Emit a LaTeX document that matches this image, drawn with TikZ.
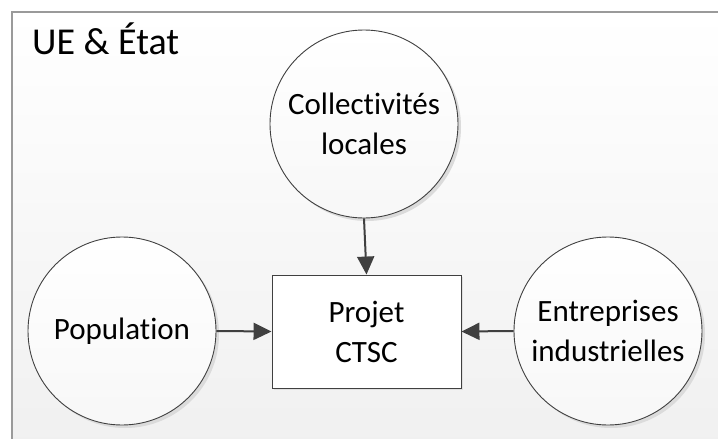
\documentclass[tikz,border=0pt]{standalone}
\usepackage{fontspec}
\setmainfont[Ligatures={NoCommon}]{Carlito}
\usetikzlibrary{arrows.meta,shadows}
\definecolor{linegray}{HTML}{404040}
\definecolor{framegray}{HTML}{9A9A9A}
\tikzset{
  ent/.style={circle, draw=linegray, line width=0.9pt, minimum size=188pt, inner sep=0pt,
    top color=white, bottom color=white!97!black, align=center,
    font=\fontsize{31}{40}\selectfont,
    drop shadow={shadow xshift=3pt, shadow yshift=-3pt, fill=black!14, opacity=1}},
  proj/.style={rectangle, draw=linegray, line width=0.9pt, minimum width=189pt, minimum height=113pt,
    inner sep=0pt, fill=white, align=center, font=\fontsize{31}{40}\selectfont,
    drop shadow={shadow xshift=2pt, shadow yshift=-2pt, fill=black!12, opacity=1}},
  flow/.style={draw=linegray, line width=2pt, -{Triangle[length=18pt,width=17pt]}},
}
\begin{document}
\begin{tikzpicture}[x=1pt,y=-1pt]
\useasboundingbox (0,0) rectangle (718,439);
\begin{scope}
\clip (0,0) rectangle (718,439);
\path[draw=framegray, line width=1.5pt, top color=white, bottom color=black!6] (12,12) rectangle (740,460);
\end{scope}
\node[anchor=base west, inner sep=0pt, font=\fontsize{38}{44}\selectfont] (title) at (32,54) {UE \& État};
\node[ent] (coll) at (364,124) {Collectivités\\locales};
\node[ent] (pop) at (122,331) {Population};
\node[ent] (entr) at (608,331) {Entreprises\\industrielles};
\node[proj] (proj) at (366.5,331.5) {Projet\\CTSC};
\draw[flow] (coll.south) -- (proj.north);
\draw[flow] (pop.east) -- (proj.west);
\draw[flow] (entr.west) -- (proj.east);
\end{tikzpicture}
\end{document}
